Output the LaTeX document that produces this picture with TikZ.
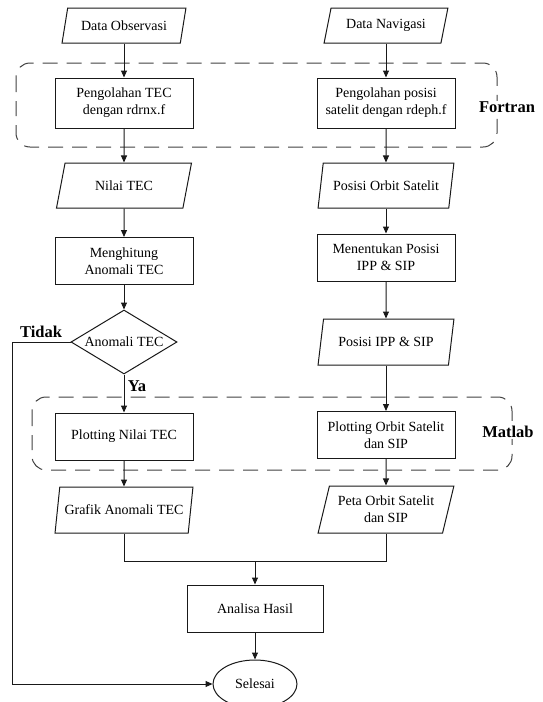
\documentclass[tikz,border=0pt]{standalone}
\usepackage{fontspec}
\setmainfont{Liberation Serif}
\newfontfamily\tnr{Liberation Serif}
\usetikzlibrary{shapes.geometric,arrows.meta}
\tikzset{
  base/.style={draw=black!90, line width=1pt, font=\tnr\fontsize{14}{17}\selectfont, align=center, inner sep=2pt, text=black},
  procbox/.style={base, rectangle, minimum width=138pt, minimum height=47pt},
  iobox/.style={base, trapezium, trapezium left angle=72, trapezium right angle=108, trapezium stretches=true, minimum width=136pt, minimum height=45pt},
  decbox/.style={base, diamond, aspect=1.66, minimum width=106pt, minimum height=64pt, inner sep=0pt},
  endbox/.style={base, ellipse, minimum width=84pt, minimum height=48pt, inner sep=0pt},
  arr/.style={line width=1pt, draw=black!90, -{Triangle[length=7pt,width=6pt]}},
  plain/.style={line width=1pt, draw=black!90},
  frame/.style={draw=black!75, line width=1pt, dash pattern=on 15pt off 9pt, rounded corners=14pt},
  lbl/.style={font=\tnr\bfseries\fontsize{16.5}{19}\selectfont, text=black, inner sep=1pt},
}
\begin{document}
\begin{tikzpicture}[x=1pt,y=-1pt]
\useasboundingbox (0,0) rectangle (542,702);
% dashed frames
\draw[frame] (16,63) rectangle (497,147);
\draw[frame] (32,397) rectangle (512,470);
% left column
\node[iobox, minimum width=124pt, minimum height=35pt] (dobs) at (124,25.5) {Data Observasi};
\node[procbox, minimum height=50pt] (ptec) at (124,103) {Pengolahan TEC\\dengan rdrnx.f};
\node[iobox] (ntec) at (124,185.5) {Nilai TEC};
\node[procbox] (hit) at (124,261) {Menghitung\\Anomali TEC};
\node[decbox] (dec) at (124,342) {Anomali TEC};
\node[procbox] (pltec) at (124,436.5) {Plotting Nilai TEC};
\node[iobox, minimum width=138pt, minimum height=46pt] (graf) at (124,510) {Grafik Anomali TEC};
% right column
\node[iobox, minimum width=124pt, minimum height=35pt] (dnav) at (386,25.5) {Data Navigasi};
\node[procbox, minimum height=50pt] (ppos) at (386,103) {Pengolahan posisi\\satelit dengan rdeph.f};
\node[iobox] (porb) at (386,185.5) {Posisi Orbit Satelit};
\node[procbox] (ment) at (386,257.5) {Menentukan Posisi\\IPP \& SIP};
\node[iobox, minimum height=46pt] (pipp) at (386,342) {Posisi IPP \& SIP};
\node[procbox] (plorb) at (386,435) {Plotting Orbit Satelit\\dan SIP};
\node[iobox, minimum height=47pt] (peta) at (386,509.5) {Peta Orbit Satelit\\dan SIP};
% bottom
\node[procbox, minimum width=136pt] (ana) at (255,608.5) {Analisa Hasil};
\node[endbox] (sel) at (255,684) {Selesai};
% labels
\node[lbl, fill=white] (fort) at (507,107) {Fortran};
\node[lbl, fill=white] (matl) at (508,432) {Matlab};
\node[lbl] (tidak) at (41,332) {Tidak};
\node[lbl] (ya) at (137,386) {Ya};
% connectors
\draw[arr] (dobs) -- (ptec);
\draw[arr] (ptec) -- (ntec);
\draw[arr] (ntec) -- (hit);
\draw[arr] (hit) -- (dec);
\draw[arr] (dec) -- (pltec);
\draw[arr] (pltec) -- (graf);
\draw[arr] (dnav) -- (ppos);
\draw[arr] (ppos) -- (porb);
\draw[arr] (porb) -- (ment);
\draw[arr] (ment) -- (pipp);
\draw[arr] (pipp) -- (plorb);
\draw[arr] (plorb) -- (peta);
\coordinate (mg) at (255,561);
\draw[plain] (graf.south) |- (mg);
\draw[plain] (peta.south) |- (mg);
\draw[arr] (mg) -- (ana);
\draw[arr] (ana) -- (sel);
\coordinate (tk) at (12,342);
\draw[arr] (dec.west) -- (tk) |- (sel.west);
\end{tikzpicture}
\end{document}
